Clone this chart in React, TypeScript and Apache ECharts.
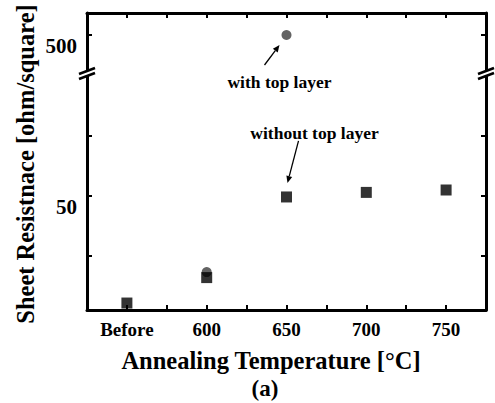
import React, { useEffect, useRef } from 'react';
import * as echarts from 'echarts';

// ---- data ----
const categories = ['Before', '600', '650', '700', '750'];
const withoutTopLayer = [5.4, 16, 49.6, 51.5, 52.5];
const withTopLayer: (number | null)[] = [null, 18.3, 500, null, null];
const lowerTicks = [25, 50, 75];
const lowerLabels = [50];
const upperTicks = [500];
const upperLabels = [500];
const BREAK_VALUE = 100;

// ---- layout ----
const W = 495;
const H = 403;
const LEFT = 87;
const RIGHT_EDGE = 486;
const TOP = 13;
const BREAK_Y = 73;
const BOTTOM = 310;
const FONT = "'Liberation Serif', 'Times New Roman', serif";
const INK = '#000';

function toPoints(vals: (number | null)[], upper: boolean) {
  const out: number[][] = [];
  vals.forEach((v, i) => {
    if (v == null) return;
    if (upper ? v > BREAK_VALUE : v <= BREAK_VALUE) out.push([i + 1, v]);
  });
  return out;
}

function arrow(x1: number, y1: number, x2: number, y2: number) {
  const dx = x2 - x1, dy = y2 - y1;
  const len = Math.sqrt(dx * dx + dy * dy);
  const ux = dx / len, uy = dy / len;
  const hl = 7, hw = 3;
  const bx = x2 - ux * hl, by = y2 - uy * hl;
  return [
    { type: 'line', shape: { x1, y1, x2: bx, y2: by }, style: { stroke: INK, lineWidth: 1.3 } },
    {
      type: 'polygon',
      shape: { points: [[x2, y2], [bx - uy * hw, by + ux * hw], [bx + uy * hw, by - ux * hw]] },
      style: { fill: INK },
    },
  ];
}

export default function App() {
  const ref = useRef<HTMLDivElement>(null);
  useEffect(() => {
    if (!ref.current) return;
    const chart = echarts.init(ref.current, null, { renderer: 'svg' });
    const axisLine = { show: true, onZero: false, lineStyle: { color: '#000', width: 3 } };
    const tick = { show: true, inside: true, length: 5, lineStyle: { color: '#000', width: 2 } };
    const xBase = {
      type: 'value', min: 0.5, max: 5.5, interval: 0.5,
      axisLine, axisTick: tick, splitLine: { show: false },
    };
    const yLabel = {
      fontFamily: FONT, fontWeight: 'bold', fontSize: 21, color: INK,
      margin: 10, verticalAlign: 'top',
    };
    chart.setOption({
      animation: false,
      backgroundColor: '#fff',
      grid: [
        { left: LEFT, right: W - RIGHT_EDGE, top: BREAK_Y, bottom: H - BOTTOM },
        { left: LEFT, right: W - RIGHT_EDGE, top: TOP, height: BREAK_Y - TOP },
      ],
      xAxis: [
        {
          ...xBase, gridIndex: 0, position: 'bottom',
          axisLabel: {
            fontFamily: FONT, fontWeight: 'bold', fontSize: 19, color: INK, margin: 10,
            showMinLabel: true, showMaxLabel: true,
            formatter: (v: number) => (Number.isInteger(v) && v >= 1 && v <= 5 ? categories[v - 1] : ''),
          },
        },
        { ...xBase, gridIndex: 1, position: 'top', axisLabel: { show: false } },
      ],
      yAxis: [
        {
          type: 'value', gridIndex: 0, position: 'left', min: 2.5, max: 101.25,
          axisLine, axisTick: { ...tick, customValues: lowerTicks },
          axisLabel: { ...yLabel, customValues: lowerLabels }, splitLine: { show: false },
        },
        {
          type: 'value', gridIndex: 0, position: 'right', min: 2.5, max: 101.25,
          axisLine, axisTick: { ...tick, customValues: lowerTicks },
          axisLabel: { show: false }, splitLine: { show: false },
        },
        {
          type: 'value', gridIndex: 1, position: 'left', min: 310, max: 610,
          axisLine, axisTick: { ...tick, customValues: upperTicks },
          axisLabel: { ...yLabel, customValues: upperLabels }, splitLine: { show: false },
        },
        {
          type: 'value', gridIndex: 1, position: 'right', min: 310, max: 610,
          axisLine, axisTick: { ...tick, customValues: upperTicks },
          axisLabel: { show: false }, splitLine: { show: false },
        },
      ],
      series: [
        {
          type: 'scatter', name: 'with top layer', xAxisIndex: 0, yAxisIndex: 0,
          data: toPoints(withTopLayer, false), symbol: 'circle', symbolSize: 10,
          itemStyle: { color: '#3c3c3c' },
        },
        {
          type: 'scatter', name: 'with top layer', xAxisIndex: 1, yAxisIndex: 2,
          data: toPoints(withTopLayer, true), symbol: 'circle', symbolSize: 10,
          itemStyle: { color: '#3c3c3c' },
        },
        {
          type: 'scatter', name: 'without top layer', xAxisIndex: 0, yAxisIndex: 0,
          data: toPoints(withoutTopLayer, false), symbol: 'rect', symbolSize: 11,
          itemStyle: { color: '#000' },
        },
        {
          type: 'scatter', name: 'without top layer', xAxisIndex: 1, yAxisIndex: 2,
          data: toPoints(withoutTopLayer, true), symbol: 'rect', symbolSize: 11,
          itemStyle: { color: '#000' },
        },
      ],
    });

    const p500 = chart.convertToPixel({ seriesIndex: 1 }, [3, withTopLayer[2] as number]) as number[];
    const p50 = chart.convertToPixel({ seriesIndex: 2 }, [3, withoutTopLayer[2]]) as number[];

    const breakMark = (x: number) => [
      { type: 'rect', shape: { x: x - 3, y: BREAK_Y - 3, width: 6, height: 6 }, style: { fill: '#fff' }, z: 100 },
      { type: 'line', shape: { x1: x - 8, y1: BREAK_Y + 1, x2: x + 8, y2: BREAK_Y - 5 }, style: { stroke: '#000', lineWidth: 2.5 }, z: 101 },
      { type: 'line', shape: { x1: x - 8, y1: BREAK_Y + 6, x2: x + 8, y2: BREAK_Y }, style: { stroke: '#000', lineWidth: 2.5 }, z: 101 },
    ];

    const txt = (text: string, size: number, extra: any = {}) => ({
      text, fontFamily: FONT, fontWeight: 'bold', fontSize: size, fill: INK,
      align: 'center', verticalAlign: 'middle', ...extra,
    });

    chart.setOption({
      graphic: [
        ...breakMark(LEFT),
        ...breakMark(RIGHT_EDGE),
        { type: 'text', x: p500[0] - 7, y: p500[1] + 47, style: txt('with top layer', 17.5) },
        ...arrow(p500[0] - 22, p500[1] + 30, p500[0] - 7, p500[1] + 10),
        { type: 'text', x: p50[0] + 28, y: p50[1] - 64, style: txt('without top layer', 17.5) },
        ...arrow(p50[0] + 12, p50[1] - 56, p50[0] + 1, p50[1] - 14),
        { type: 'text', x: 271, y: 360, style: txt('Annealing Temperature [°C]', 24.5) },
        { type: 'text', x: 265, y: 388, style: txt('(a)', 23) },
        { type: 'text', x: 25, y: 164, rotation: Math.PI / 2, style: txt('Sheet Resistnace [ohm/square]', 24.5) },
      ],
    });

    return () => chart.dispose();
  }, []);
  return <div ref={ref} style={{ position: 'fixed', left: 0, top: 0, width: W, height: H, background: '#fff' }} />;
}
